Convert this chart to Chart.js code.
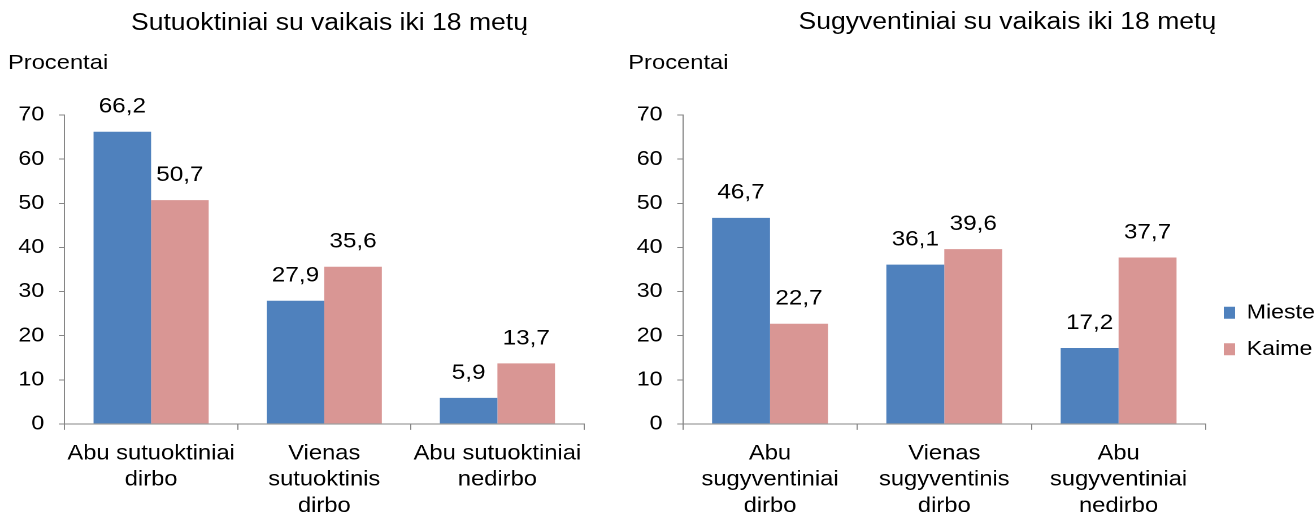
<!DOCTYPE html>
<html>
<head>
<meta charset="utf-8">
<script src="https://cdn.jsdelivr.net/npm/chart.js@4.4.1/dist/chart.umd.min.js"></script>
<style>
  html, body { margin: 0; padding: 0; background: #fff; overflow: hidden; }
  /* the reference is stretched horizontally, so the whole page is too */
  #page { position: relative; width: 1163px; height: 515px; transform: scaleX(1.13); transform-origin: 0 0; }
  .txt { position: absolute; font-family: "Liberation Sans", Arial, sans-serif; color: #000; white-space: nowrap; line-height: 1; }
  .title { font-size: 23.5px; transform: translateX(-50%); }
  .unit { font-size: 21px; }
  .box { position: absolute; top: 0; height: 515px; }
</style>
</head>
<body>
<div id="page">
  <div class="txt title" style="left:291.6px; top:11px;">Sutuoktiniai su vaikais iki 18 metų</div>
  <div class="txt title" style="left:891.5px; top:10px;">Sugyventiniai su vaikais iki 18 metų</div>
  <div class="txt unit" style="left:7px; top:51px;">Procentai</div>
  <div class="txt unit" style="left:556px; top:51px;">Procentai</div>
  <div class="box" style="left:0; width:556px;"><canvas id="leftChart"></canvas></div>
  <div class="box" style="left:556px; width:607px;"><canvas id="rightChart"></canvas></div>
</div>
<script>
// data
const seriesNames = ['Mieste', 'Kaime'];
const leftCategories = [['Abu sutuoktiniai', 'dirbo'], ['Vienas', 'sutuoktinis', 'dirbo'], ['Abu sutuoktiniai', 'nedirbo']];
const leftMieste = [66.2, 27.9, 5.9];
const leftKaime = [50.7, 35.6, 13.7];
const rightCategories = [['Abu', 'sugyventiniai', 'dirbo'], ['Vienas', 'sugyventinis', 'dirbo'], ['Abu', 'sugyventiniai', 'nedirbo']];
const rightMieste = [46.7, 36.1, 17.2];
const rightKaime = [22.7, 39.6, 37.7];
const yMin = 0, yMax = 70, yStep = 10;

const blue = '#4F81BD';
const pink = '#D99694';
const axisGray = '#868686';
const fontFamily = '"Liberation Sans", Arial, sans-serif';

Chart.defaults.font.family = fontFamily;
Chart.defaults.color = '#000';

function fmt(v) {
    return v.toFixed(1).replace('.', ',');
}

// values above the bars
const valueLabels = {
    id: 'valueLabels',
    afterDatasetsDraw(chart) {
        const ctx = chart.ctx;
        ctx.save();
        ctx.font = '21.5px ' + fontFamily;
        ctx.fillStyle = '#000';
        ctx.textAlign = 'center';
        ctx.textBaseline = 'middle';
        chart.data.datasets.forEach(function(ds, i) {
            chart.getDatasetMeta(i).data.forEach(function(bar, j) {
                ctx.fillText(fmt(ds.data[j]), bar.x, bar.y - 25);
            });
        });
        ctx.restore();
    }
};

function makeChart(id, categories, mieste, kaime, padLeft, padRight, showLegend) {
    return new Chart(document.getElementById(id), {
        type: 'bar',
        data: {
            labels: categories,
            datasets: [
                { label: seriesNames[0], data: mieste, backgroundColor: blue, borderWidth: 0 },
                { label: seriesNames[1], data: kaime, backgroundColor: pink, borderWidth: 0 }
            ]
        },
        options: {
            responsive: true,
            maintainAspectRatio: false,
            animation: false,
            devicePixelRatio: 2,
            categoryPercentage: 0.665,
            barPercentage: 1,
            layout: { padding: { top: 115, bottom: -15, left: padLeft, right: padRight } },
            plugins: {
                tooltip: { enabled: false },
                legend: {
                    display: showLegend,
                    position: 'right',
                    maxWidth: 96,
                    title: { display: true, text: '', font: { size: 17, lineHeight: 1 }, padding: 0 },
                    labels: {
                        boxWidth: 10,
                        boxHeight: 12,
                        padding: 16,
                        color: '#000',
                        font: { size: 20.5 }
                    }
                }
            },
            scales: {
                x: {
                    grid: { offset: true, drawOnChartArea: false, tickLength: 6, color: axisGray },
                    border: { color: axisGray },
                    ticks: { maxRotation: 0, padding: 11, color: '#000', font: { size: 21, lineHeight: 1.24 } }
                },
                y: {
                    min: yMin,
                    max: yMax,
                    grid: { drawOnChartArea: false, tickLength: 5, color: axisGray },
                    border: { color: axisGray },
                    ticks: { stepSize: yStep, padding: 13, color: '#000', font: { size: 20.5 } }
                }
            }
        },
        plugins: [valueLabels]
    });
}

makeChart('leftChart', leftCategories, leftMieste, leftKaime, 3.3, 39.2, false);
makeChart('rightChart', rightCategories, rightMieste, rightKaime, -5.5, 0, true);
</script>
</body>
</html>
